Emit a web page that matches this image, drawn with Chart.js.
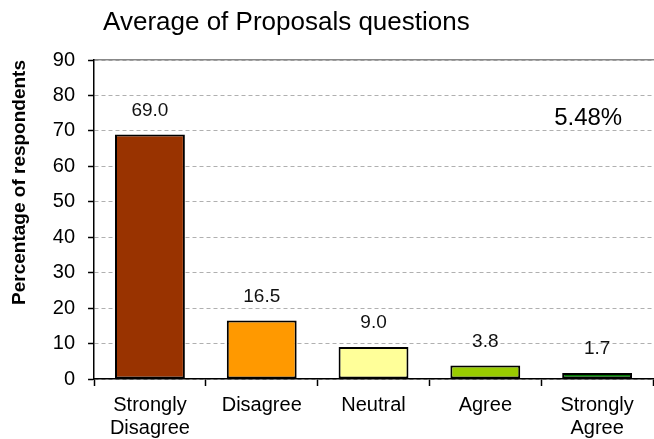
<!DOCTYPE html>
<html>
<head>
<meta charset="utf-8">
<script src="https://cdn.jsdelivr.net/npm/chart.js@4/dist/chart.umd.min.js"></script>
<style>
  html, body { margin: 0; padding: 0; background: #fff; }
  #wrap { width: 654px; height: 439px; position: relative; }
</style>
</head>
<body>
<div id="wrap"><canvas id="c"></canvas></div>
<script>
// ─── Data ─────────────────────────────────────────────────────────
const categories = [['Strongly', 'Disagree'], 'Disagree', 'Neutral', 'Agree', ['Strongly', 'Agree']];
const percentages = [69.0, 16.5, 9.0, 3.8, 1.7];
const barColors = ['#993300', '#FF9900', '#FFFF99', '#99CC00', '#007A00'];
const yTicks = [0, 10, 20, 30, 40, 50, 60, 70, 80, 90];
const chartTitle = 'Average of Proposals questions';
const axisTitle = 'Percentage of respondents';
const overallNote = '5.48%';

const FONT = "Arial, 'Liberation Sans', sans-serif";

// ─── Title, value labels and note ─────────────────────────────────
const decorations = {
  id: 'decorations',
  afterDatasetsDraw(chart) {
    const { ctx, chartArea } = chart;
    const xs = chart.scales.x;
    const ys = chart.scales.y;
    ctx.save();

    // title
    ctx.fillStyle = '#000';
    ctx.font = `26px ${FONT}`;
    ctx.textAlign = 'left';
    ctx.textBaseline = 'middle';
    ctx.fillText(chartTitle, chartArea.left + 9, 23);

    // value above each bar
    ctx.font = `19px ${FONT}`;
    ctx.fillStyle = '#111';
    ctx.textAlign = 'center';
    percentages.forEach((v, i) => {
      const x = xs.getPixelForValue(i);
      const y = ys.getPixelForValue(v);
      ctx.fillText(v.toFixed(1), x, y - 24);
    });

    // overall note
    ctx.font = `24px ${FONT}`;
    ctx.fillStyle = '#000';
    ctx.fillText(overallNote, xs.getPixelForValue(3.92), ys.getPixelForValue(73.6));
    ctx.restore();
  }
};

new Chart(document.getElementById('c'), {
  type: 'bar',
  data: {
    labels: categories,
    datasets: [{
      data: percentages,
      backgroundColor: barColors,
      borderColor: '#000',
      borderWidth: 2,
      borderSkipped: false,
      barPercentage: 0.625,
      categoryPercentage: 1.0,
    }],
  },
  options: {
    responsive: true,
    maintainAspectRatio: false,
    animation: false,
    layout: { padding: { top: 60, left: 8, right: 1, bottom: 0 } },
    plugins: {
      legend: { display: false },
      tooltip: { enabled: false },
    },
    scales: {
      x: {
        afterFit: axis => { axis.height = 60; },
        grid: {
          offset: true,
          drawOnChartArea: false,
          drawTicks: true,
          tickLength: 7,
          tickColor: '#000',
          tickWidth: 1.5,
        },
        border: { color: '#000', width: 1.5 },
        ticks: {
          color: '#000',
          padding: 8,
          maxRotation: 0,
          font: { size: 20, family: FONT, lineHeight: 1.15 },
        },
      },
      top: {
        position: 'top',
        grid: { display: false, drawTicks: false },
        ticks: { display: false },
        border: { color: '#888', width: 1.5 },
      },
      y: {
        min: 0,
        max: 90,
        afterBuildTicks: axis => { axis.ticks = yTicks.map(v => ({ value: v })); },
        grid: {
          color: '#b0b0b0',
          lineWidth: 1,
          tickColor: '#000',
          tickLength: 6,
          tickWidth: 1.5,
        },
        border: { color: '#000', width: 1.5, dash: [4, 3] },
        ticks: {
          color: '#000',
          padding: 13,
          font: { size: 20, family: FONT },
        },
        title: {
          display: true,
          text: axisTitle,
          align: 'end',
          color: '#000',
          padding: { top: 0, bottom: 9 },
          font: { size: 19, weight: 'bold', family: FONT },
        },
      },
    },
  },
  plugins: [decorations],
});
</script>
</body>
</html>
